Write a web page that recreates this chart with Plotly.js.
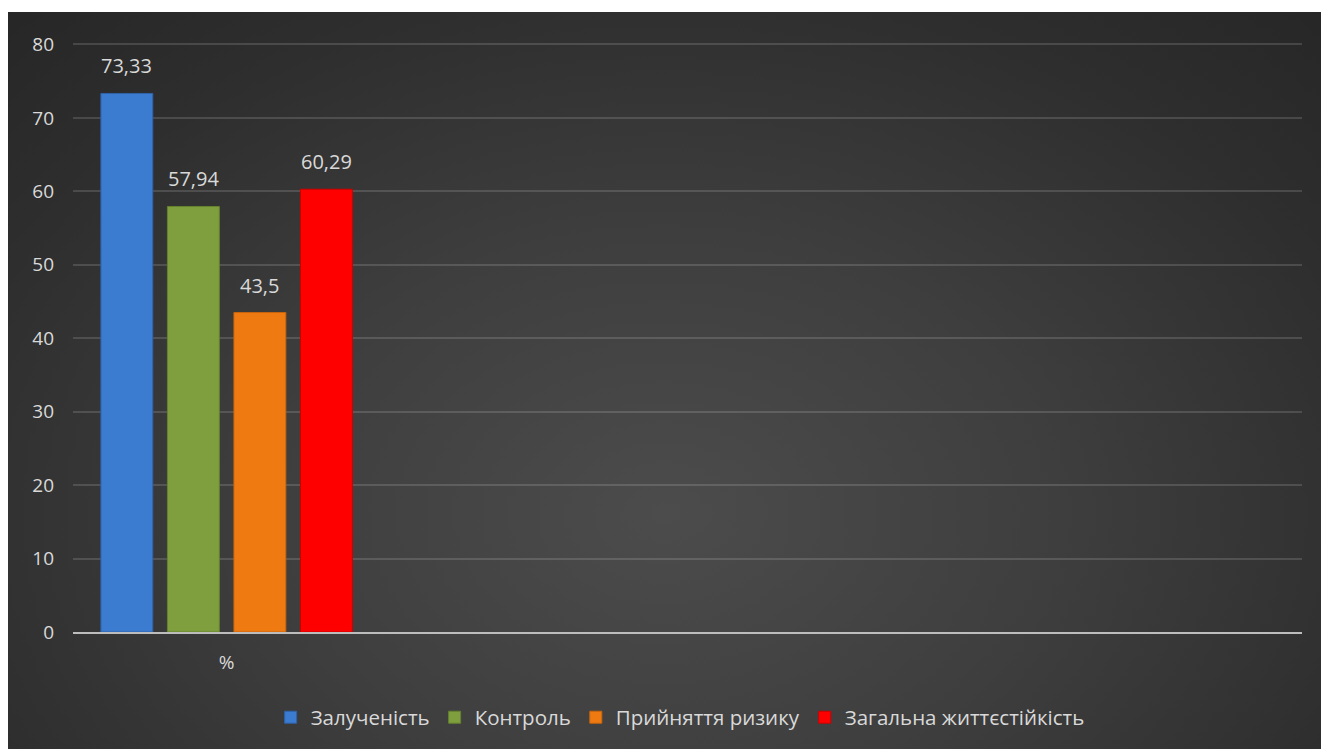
<!DOCTYPE html>
<html>
<head>
<meta charset="utf-8">
<script src="https://cdn.plot.ly/plotly-3.0.1.min.js"></script>
<style>
  html, body { margin: 0; padding: 0; background: #ffffff; width: 1321px; height: 749px; overflow: hidden; }
  #wrap {
    position: absolute; left: 8px; top: 12px; width: 1313px; height: 737px;
    background: radial-gradient(ellipse 75% 95% at 50% 68%, #4c4c4c 0%, #3e3e3e 40%, #2e2e2e 75%, #262626 100%);
  }
  #chart { width: 1313px; height: 737px; }
</style>
</head>
<body>
<div id="wrap"><div id="chart"></div></div>
<script>
const categories = ['%'];
const seriesNames = ['Залученість', 'Контроль', 'Прийняття ризику', 'Загальна життєстійкість'];
const seriesValues = [73.33, 57.94, 43.5, 60.29];
const valueLabels = ['73,33', '57,94', '43,5', '60,29'];
const seriesColors = ['#3b7bd0', '#7f9f3f', '#ef7a12', '#ff0000'];
const lineColors = ['#2f62a8', '#66822f', '#c9650c', '#cc0000'];

const fontFam = '"Open Sans", "Noto Sans", "DejaVu Sans", sans-serif';
const textCol = '#d9d9d9';

const traces = seriesNames.map((name, i) => ({
  type: 'bar',
  name: name,
  x: categories,
  y: [seriesValues[i]],
  marker: { color: seriesColors[i], line: { color: lineColors[i], width: 1 } },
  hoverinfo: 'name+y'
}));

const layout = {
  width: 1313, height: 737,
  paper_bgcolor: 'rgba(0,0,0,0)',
  plot_bgcolor: 'rgba(0,0,0,0)',
  margin: { l: 65, r: 19, t: 31, b: 117 },
  barmode: 'group',
  bargap: 0.134,
  bargroupgap: 0.22,
  font: { family: fontFam, size: 19, color: textCol },
  xaxis: {
    type: 'category',
    range: [-0.5, 3.5],
    showgrid: false,
    showline: true,
    linecolor: '#bdbdbd',
    linewidth: 2,
    ticks: '',
    tickfont: { family: fontFam, size: 19, color: textCol },
    ticklabelstandoff: 12,
    fixedrange: true
  },
  yaxis: {
    range: [0, 80.2],
    dtick: 10,
    tick0: 0,
    showgrid: true,
    gridcolor: 'rgba(255,255,255,0.14)',
    gridwidth: 2,
    zeroline: false,
    showline: false,
    ticks: '',
    tickfont: { family: fontFam, size: 19, color: textCol },
    ticklabelstandoff: 18,
    fixedrange: true
  },
  showlegend: true,
  legend: {
    orientation: 'h',
    x: 0.494, xanchor: 'center',
    y: -0.145, yanchor: 'middle',
    font: { family: fontFam, size: 20.5, color: textCol },
    bgcolor: 'rgba(0,0,0,0)',
    itemwidth: 30
  }
};

const gd = document.getElementById('chart');
Plotly.newPlot(gd, traces, layout, { displayModeBar: false, staticPlot: true }).then(() => {
  // place value labels above each bar using the library's computed bar centers
  const anns = gd.calcdata.map((cd, i) => ({
    x: cd[0].x,
    y: seriesValues[i],
    xref: 'x', yref: 'y',
    text: valueLabels[i],
    showarrow: false,
    yanchor: 'bottom',
    yshift: 12,
    font: { family: fontFam, size: 20, color: textCol }
  }));
  return Plotly.relayout(gd, { annotations: anns });
});
</script>
</body>
</html>
